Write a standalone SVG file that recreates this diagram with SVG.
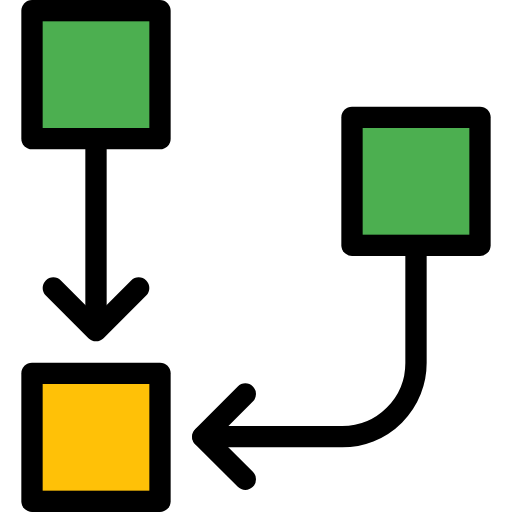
<svg xmlns="http://www.w3.org/2000/svg" width="512" height="512" viewBox="0 0 512 512">
<style>
.frame{fill:#000}
.green{fill:#4CAF50}
.yellow{fill:#FFC107}
.line{fill:none;stroke:#000;stroke-width:21.33;stroke-linecap:round;stroke-linejoin:round}
</style>
<g id="connectors">
<path class="line" d="M96 149 V330"/>
<path class="line" d="M53.33 288 L96 330.67 L138.67 288"/>
<path class="line" d="M416 256 V363 A73.67 73.67 0 0 1 342.33 436.67 H203"/>
<path class="line" d="M245.33 394 L202.67 436.67 L245.33 479.33"/>
</g>
<g id="node-top-left">
<rect class="frame" x="21.33" y="0" width="149.33" height="149.33" rx="10.67"/>
<rect class="green" x="42.67" y="21.33" width="106.67" height="106.67"/>
</g>
<g id="node-right">
<rect class="frame" x="341.33" y="106.67" width="149.33" height="149.33" rx="10.67"/>
<rect class="green" x="362.67" y="128" width="106.67" height="106.67"/>
</g>
<g id="node-bottom">
<rect class="frame" x="21.33" y="362.67" width="149.33" height="149.33" rx="10.67"/>
<rect class="yellow" x="42.67" y="384" width="106.67" height="106.67"/>
</g>
</svg>
